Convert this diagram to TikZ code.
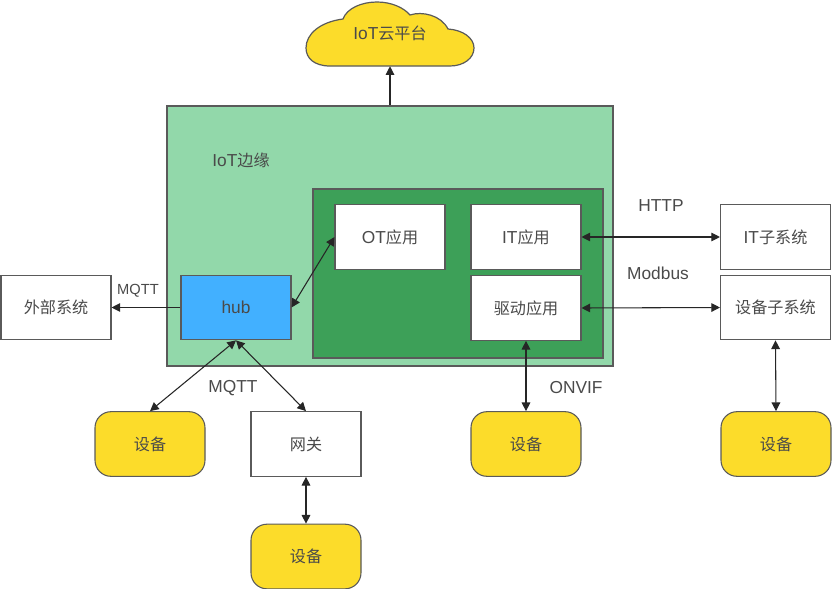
\documentclass[tikz,border=0pt]{standalone}
\usepackage{fontspec}
\setmainfont{Liberation Sans}
\newfontfamily\cjk[Scale=0.93]{Noto Sans CJK SC}
\usetikzlibrary{arrows.meta}
\definecolor{edgegray}{HTML}{5A5A5A}
\definecolor{txt}{HTML}{4A4A4A}
\definecolor{lightgreen}{HTML}{92D8AA}
\definecolor{darkgreen}{HTML}{3DA058}
\definecolor{hubblue}{HTML}{42B0FF}
\definecolor{devyellow}{HTML}{FCDC2A}
\tikzset{
  x=0.75pt,y=-0.75pt,
  every node/.style={font=\fontsize{13pt}{15pt}\selectfont,text=txt},
  base/.style={draw=edgegray,line width=0.8pt,inner sep=0pt,anchor=center},
  whitebox/.style={base,fill=white,minimum width=82.5pt,minimum height=48.5pt},
  hubbox/.style={whitebox,fill=hubblue},
  devbox/.style={whitebox,fill=devyellow,rounded corners=12pt},
  link/.style={draw=black!85,line width=0.8pt,{Triangle[width=6.5pt,length=6.5pt]}-{Triangle[width=6.5pt,length=6.5pt]}},
  oneway/.style={draw=black!85,line width=0.8pt,-{Triangle[width=6.5pt,length=6.5pt]}},
  lbl/.style={inner sep=0pt},
  small/.style={lbl,font=\fontsize{11pt}{13pt}\selectfont},
}
\begin{document}
\begin{tikzpicture}
\useasboundingbox (0,0) rectangle (833,589);
% cloud
\path[base,line width=0.9pt,fill=devyellow]
  (330,66) .. controls (314,66) and (306,58) .. (306,48)
  .. controls (306,34) and (320,22) .. (343,19)
  .. controls (347,8) and (362,2) .. (377,2)
  .. controls (392,2) and (404,8) .. (410,15)
  .. controls (422,11) and (441,15) .. (448,29)
  .. controls (463,30) and (474,38) .. (474,48)
  .. controls (474,58) and (464,66) .. (450,66) -- cycle;
\node[inner sep=0pt,minimum width=126pt,minimum height=48pt] (cloud) at (390,34) {};
\node[lbl] (cloudtext) at (390,33) {IoT{\cjk 云平台}};
% containers
\node[base,fill=lightgreen,minimum width=334.5pt,minimum height=195pt] (edge) at (390,236) {};
\node[base,fill=darkgreen,minimum width=217.5pt,minimum height=126.75pt] (inner) at (458,273.5) {};
\node[lbl] (edgelabel) at (241,160) {IoT{\cjk 边缘}};
% boxes
\node[whitebox] (ot) at (390,237) {OT{\cjk 应用}};
\node[whitebox] (it) at (526,237) {IT{\cjk 应用}};
\node[whitebox] (drv) at (526,308) {{\cjk 驱动应用}};
\node[hubbox] (hub) at (236,307.5) {hub};
\node[whitebox] (ext) at (56,307.5) {{\cjk 外部系统}};
\node[whitebox] (itsub) at (775.5,237) {IT{\cjk 子系统}};
\node[whitebox] (devsub) at (775.5,307.5) {{\cjk 设备子系统}};
\node[devbox] (dev1) at (150,444) {{\cjk 设备}};
\node[whitebox] (gw) at (306,444) {{\cjk 网关}};
\node[devbox] (dev2) at (306,556.5) {{\cjk 设备}};
\node[devbox] (dev3) at (526,444) {{\cjk 设备}};
\node[devbox] (dev4) at (776,444) {{\cjk 设备}};
% connectors
\draw[oneway] (edge.north) -- (cloud.south);
\draw[oneway] (hub.west) -- (ext.east);
\draw[link] (hub.east) -- (ot.west);
\draw[link] (hub.south) -- (dev1.north);
\draw[link] (hub.south) -- (gw.north);
\draw[link] (gw.south) -- (dev2.north);
\draw[link] (it.east) -- (itsub.west);
\draw[link] (drv.east) -- (devsub.west);
\draw[link] (drv.south) -- (dev3.north);
\draw[link] (devsub.south) -- (dev4.north);
% labels
\node[small] (l1) at (138,291) {MQTT};
\node[lbl] (l2) at (233,388) {MQTT};
\node[lbl] (l3) at (661,206) {HTTP};
\node[lbl] (l4) at (658,273) {Modbus};
\node[lbl] (l5) at (576,388) {ONVIF};
\end{tikzpicture}
\end{document}
